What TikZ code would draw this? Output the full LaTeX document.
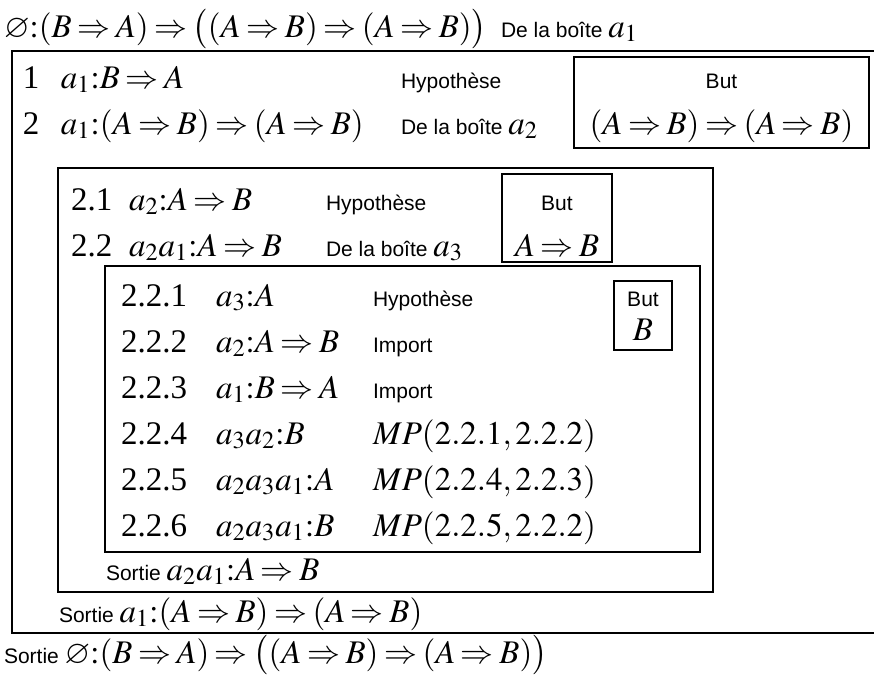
\documentclass[tikz,border=0pt]{standalone}
\usepackage{amsmath}
\usepackage{amssymb}
\usepackage{mathptmx}
\usepackage{fontspec}
\setmainfont{Liberation Serif}
\setsansfont{Liberation Sans}
\usepackage{tikz}

\newcommand{\imp}{\Rightarrow}
\newcommand{\frmsize}{\fontsize{16.5}{19}\selectfont\thickmuskip=3mu\relax}

\begin{document}
\begin{tikzpicture}[x=0.5pt, y=-0.5pt, line width=1pt,
    every node/.style={inner sep=0pt, anchor=base west},
    frm/.style={font=\frmsize},
    lbl/.style={font=\fontsize{10.5}{12}\selectfont\sffamily},
    but/.style={lbl, anchor=base}]
    \useasboundingbox (0,0) rectangle (874,675);
    % boxes
    \draw (874,51) -- (12,51) -- (12,633) -- (874,633);
    \draw (574,57) rectangle (869,148);
    \draw (58,168) rectangle (713,592);
    \draw (502,174) rectangle (612,262);
    \draw (105,266) rectangle (700,552);
    \draw (614,281) rectangle (672,350);
    % header
    \node[frm] (hd) at (3,37) {$\varnothing{:}(B\imp A)\imp\bigl((A\imp B)\imp(A\imp B)\bigr)$};
    \node[lbl] (hdsrc) at (500,37) {De la boîte \frmsize$a_1$};
    % boite a1
    \node[frm] (n1) at (22,88) {1};
    \node[frm] (f1) at (60,88) {$a_1{:}B\imp A$};
    \node[lbl] (l1) at (400,88) {Hypothèse};
    \node[frm] (n2) at (22,134) {2};
    \node[frm] (f2) at (60,134) {$a_1{:}(A\imp B)\imp(A\imp B)$};
    \node[lbl] (l2) at (400,134) {De la boîte \frmsize$a_2$};
    \node[but] (b1) at (721.5,88) {But};
    \node[frm, anchor=base] (g1) at (721.5,134) {$(A\imp B)\imp(A\imp B)$};
    % boite a2
    \node[frm] (n21) at (70,210) {2.1};
    \node[frm] (f21) at (128,210) {$a_2{:}A\imp B$};
    \node[lbl] (l21) at (325,210) {Hypothèse};
    \node[frm] (n22) at (70,256) {2.2};
    \node[frm] (f22) at (128,256) {$a_2a_1{:}A\imp B$};
    \node[lbl] (l22) at (325,256) {De la boîte \frmsize$a_3$};
    \node[but] (b2) at (557,210) {But};
    \node[frm, anchor=base] (g2) at (557,256) {$A\imp B$};
    % boite a3
    \node[frm] (n221) at (120,306) {2.2.1};
    \node[frm] (f221) at (215,306) {$a_3{:}A$};
    \node[lbl] (l221) at (372,306) {Hypothèse};
    \node[frm] (n222) at (120,352) {2.2.2};
    \node[frm] (f222) at (215,352) {$a_2{:}A\imp B$};
    \node[lbl] (l222) at (372,352) {Import};
    \node[frm] (n223) at (120,398) {2.2.3};
    \node[frm] (f223) at (215,398) {$a_1{:}B\imp A$};
    \node[lbl] (l223) at (372,398) {Import};
    \node[frm] (n224) at (120,444) {2.2.4};
    \node[frm] (f224) at (215,444) {$a_3a_2{:}B$};
    \node[frm] (l224) at (372,444) {$MP(2.2.1,2.2.2)$};
    \node[frm] (n225) at (120,490) {2.2.5};
    \node[frm] (f225) at (215,490) {$a_2a_3a_1{:}A$};
    \node[frm] (l225) at (372,490) {$MP(2.2.4,2.2.3)$};
    \node[frm] (n226) at (120,536) {2.2.6};
    \node[frm] (f226) at (215,536) {$a_2a_3a_1{:}B$};
    \node[frm] (l226) at (372,536) {$MP(2.2.5,2.2.2)$};
    \node[but] (b3) at (643,306) {But};
    \node[frm, anchor=base] (g3) at (643,340) {$B$};
    % sorties
    \node[lbl] (s2) at (105,580) {Sortie \frmsize$a_2a_1{:}A\imp B$};
    \node[lbl] (s1) at (58,622) {Sortie \frmsize$a_1{:}(A\imp B)\imp(A\imp B)$};
    \node[lbl] (s0) at (3,663) {Sortie \frmsize$\varnothing{:}(B\imp A)\imp\bigl((A\imp B)\imp(A\imp B)\bigr)$};
\end{tikzpicture}
\end{document}
